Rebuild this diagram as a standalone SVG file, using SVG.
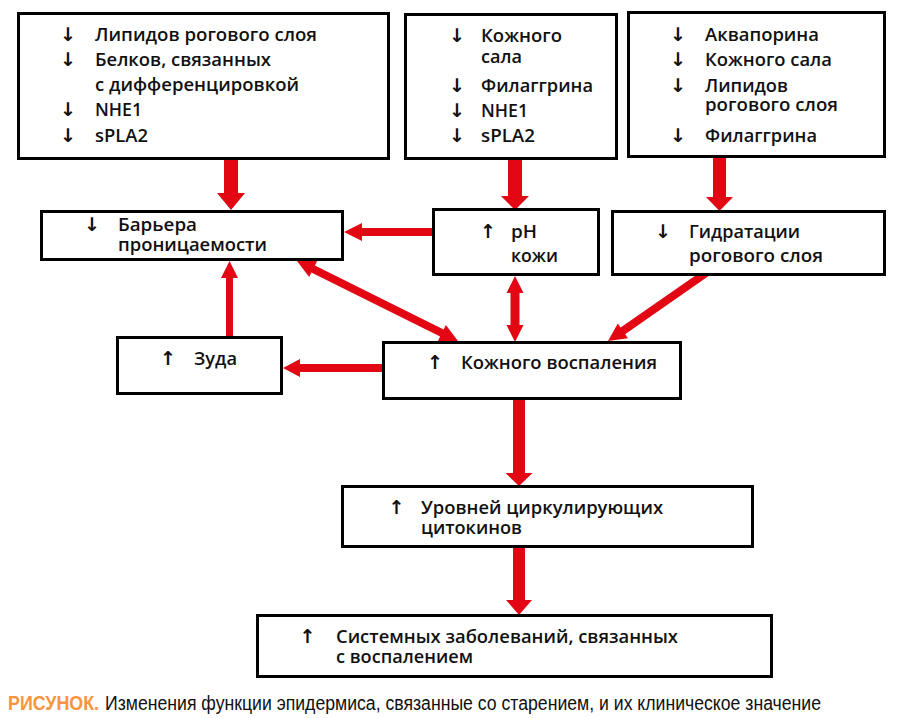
<svg xmlns="http://www.w3.org/2000/svg" width="897" height="718" viewBox="0 0 897 718">
<style>
.box{fill:#fff;stroke:#000;stroke-width:3}
.t{font-family:"Open Sans","Noto Sans",sans-serif;font-weight:600;font-size:17.5px;fill:#111}
.ar{font-family:"DejaVu Sans",sans-serif;font-weight:bold;font-size:19px;fill:#111;text-anchor:middle}
.c{fill:#E30613}
.cap{font-family:"Liberation Sans",sans-serif;font-size:19.5px;fill:#111}
.capb{font-family:"Liberation Sans",sans-serif;font-size:19.5px;font-weight:bold;fill:#F7943C}
</style>
<rect width="897" height="718" fill="#fff"/>
<g id="connectors">
<polygon class="c" points="224,157 238,157 238,193 245,193 231,210 217,193 224,193"/>
<polygon class="c" points="508,158 522,158 522,196 529,196 515,210 501,196 508,196"/>
<polygon class="c" points="713,156 726,156 726,197 733,197 719.5,211 706,197 713,197"/>
<polygon class="c" points="434,228 362,228 362,223 344,232 362,241 362,236 434,236"/>
<polygon class="c" points="226,338 226,278 221,278 229.5,261 238,278 233,278 233,338"/>
<polygon class="c" points="384,364 300,364 300,359 283,368 300,377 300,372 384,372"/>
<polygon class="c" points="297,261 309.11,277.07 311.34,272.59 440.10,336.57 437.87,341.05 458,341 445.89,324.93 443.66,329.41 314.90,265.43 317.13,260.95"/>
<polygon class="c" points="515,276 523.5,293 519.5,293 519.5,325 523.5,325 515,342 506.5,325 510.5,325 510.5,293 506.5,293"/>
<polygon class="c" points="708.26,276.30 625.12,334.14 627.94,338.27 608,341 617.78,323.41 620.60,327.54 703.74,269.70"/>
<polygon class="c" points="513,398 525,398 525,473 532.5,473 519,486 505.5,473 513,473"/>
<polygon class="c" points="513,546 525,546 525,600 532,600 519,615 506,600 513,600"/>
</g>
<g id="n1">
<rect class="box" x="18.5" y="13.5" width="370" height="145"/>
<text class="ar" x="68" y="41">↓</text>
<text class="t" x="95" y="41" textLength="222" lengthAdjust="spacingAndGlyphs">Липидов рогового слоя</text>
<text class="ar" x="68" y="66">↓</text>
<text class="t" x="95" y="66" textLength="176" lengthAdjust="spacingAndGlyphs">Белков, связанных</text>
<text class="t" x="95" y="91" textLength="204" lengthAdjust="spacingAndGlyphs">с дифференцировкой</text>
<text class="ar" x="68" y="116">↓</text>
<text class="t" x="95" y="116" textLength="47" lengthAdjust="spacingAndGlyphs">NHE1</text>
<text class="ar" x="68" y="142">↓</text>
<text class="t" x="95" y="142" textLength="53" lengthAdjust="spacingAndGlyphs">sPLA2</text>
</g>
<g id="n2">
<rect class="box" x="405.5" y="14.5" width="211" height="144"/>
<text class="ar" x="457" y="42">↓</text>
<text class="t" x="481" y="42" textLength="81" lengthAdjust="spacingAndGlyphs">Кожного</text>
<text class="t" x="481" y="63" textLength="41" lengthAdjust="spacingAndGlyphs">сала</text>
<text class="ar" x="457" y="92">↓</text>
<text class="t" x="481" y="92" textLength="112" lengthAdjust="spacingAndGlyphs">Филаггрина</text>
<text class="ar" x="457" y="117">↓</text>
<text class="t" x="481" y="117" textLength="47" lengthAdjust="spacingAndGlyphs">NHE1</text>
<text class="ar" x="457" y="142">↓</text>
<text class="t" x="481" y="142" textLength="54" lengthAdjust="spacingAndGlyphs">sPLA2</text>
</g>
<g id="n3">
<rect class="box" x="628.5" y="12.5" width="256" height="144"/>
<text class="ar" x="678" y="41">↓</text>
<text class="t" x="705" y="41" textLength="114" lengthAdjust="spacingAndGlyphs">Аквапорина</text>
<text class="ar" x="678" y="66">↓</text>
<text class="t" x="705" y="66" textLength="127" lengthAdjust="spacingAndGlyphs">Кожного сала</text>
<text class="ar" x="678" y="92">↓</text>
<text class="t" x="705" y="92" textLength="83" lengthAdjust="spacingAndGlyphs">Липидов</text>
<text class="t" x="705" y="111" textLength="133" lengthAdjust="spacingAndGlyphs">рогового слоя</text>
<text class="ar" x="678" y="142">↓</text>
<text class="t" x="705" y="142" textLength="112" lengthAdjust="spacingAndGlyphs">Филаггрина</text>
</g>
<g id="n4">
<rect class="box" x="41.5" y="211.5" width="301" height="48"/>
<text class="ar" x="92" y="231">↓</text>
<text class="t" x="118" y="231" textLength="79" lengthAdjust="spacingAndGlyphs">Барьера</text>
<text class="t" x="118" y="251" textLength="149" lengthAdjust="spacingAndGlyphs">проницаемости</text>
</g>
<g id="n5">
<rect class="box" x="433.5" y="209.5" width="165" height="65"/>
<text class="ar" x="488" y="238">↑</text>
<text class="t" x="511" y="238" textLength="26" lengthAdjust="spacingAndGlyphs">pH</text>
<text class="t" x="511" y="262" textLength="47" lengthAdjust="spacingAndGlyphs">кожи</text>
</g>
<g id="n6">
<rect class="box" x="612.5" y="211.5" width="272" height="63"/>
<text class="ar" x="663" y="238">↓</text>
<text class="t" x="689" y="238" textLength="111" lengthAdjust="spacingAndGlyphs">Гидратации</text>
<text class="t" x="689" y="262" textLength="134" lengthAdjust="spacingAndGlyphs">рогового слоя</text>
</g>
<g id="n7">
<rect class="box" x="117.5" y="337.5" width="164" height="56"/>
<text class="ar" x="168" y="365">↑</text>
<text class="t" x="194" y="365" textLength="43" lengthAdjust="spacingAndGlyphs">Зуда</text>
</g>
<g id="n8">
<rect class="box" x="383.5" y="342.5" width="297" height="56"/>
<text class="ar" x="435" y="369">↑</text>
<text class="t" x="461" y="369" textLength="196" lengthAdjust="spacingAndGlyphs">Кожного воспаления</text>
</g>
<g id="n9">
<rect class="box" x="342.5" y="486.5" width="410" height="60"/>
<text class="ar" x="396.5" y="514">↑</text>
<text class="t" x="421" y="514" textLength="242" lengthAdjust="spacingAndGlyphs">Уровней циркулирующих</text>
<text class="t" x="421" y="534" textLength="101" lengthAdjust="spacingAndGlyphs">цитокинов</text>
</g>
<g id="n10">
<rect class="box" x="257.5" y="615.5" width="514" height="61"/>
<text class="ar" x="307.5" y="643">↑</text>
<text class="t" x="336" y="643" textLength="342" lengthAdjust="spacingAndGlyphs">Системных заболеваний, связанных</text>
<text class="t" x="336" y="663" textLength="137" lengthAdjust="spacingAndGlyphs">с воспалением</text>
</g>
<g id="caption">
<text class="capb" x="8" y="710" textLength="91" lengthAdjust="spacingAndGlyphs">РИСУНОК.</text>
<text class="cap" x="105" y="710" textLength="716" lengthAdjust="spacingAndGlyphs">Изменения функции эпидермиса, связанные со старением, и их клиническое значение</text>
</g>
</svg>
